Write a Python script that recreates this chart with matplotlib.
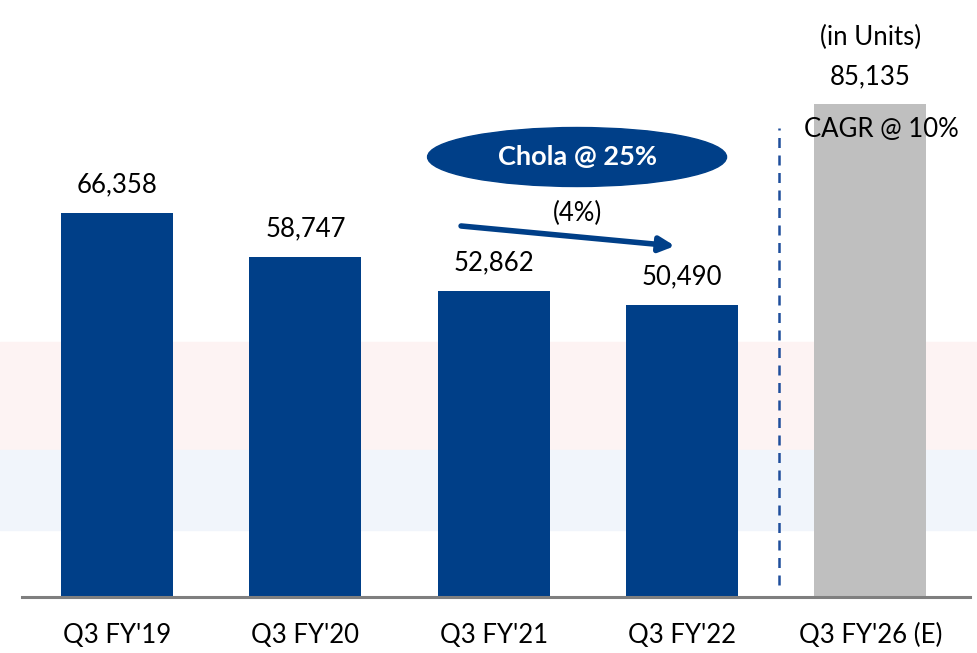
import matplotlib.pyplot as plt
from matplotlib.patches import Ellipse, Rectangle

plt.rcParams['font.family'] = ['Lato', 'DejaVu Sans']

categories = ["Q3 FY'19", "Q3 FY'20", "Q3 FY'21", "Q3 FY'22", "Q3 FY'26 (E)"]
units = [66358, 58747, 52862, 50490, 85135]
bar_colors = ['#003f88', '#003f88', '#003f88', '#003f88', '#bfbfbf']

fig = plt.figure(figsize=(9.77, 6.53), dpi=100)

# faint watermark bands behind the chart
fig.patches.append(Rectangle((0, (653 - 450) / 653), 1, 108 / 653,
                             transform=fig.transFigure, color='#fdf3f3', zorder=-1))
fig.patches.append(Rectangle((0, (653 - 530) / 653), 1, 80 / 653,
                             transform=fig.transFigure, color='#f1f5fb', zorder=-1))

ax = fig.add_axes([22 / 977, 56 / 653, 948 / 977, 597 / 653])
ax.set_zorder(1)
ax.patch.set_alpha(0)

x = list(range(len(categories)))
ax.bar(x, units, width=0.595, color=bar_colors, zorder=2)

fs = 18.5
for xi, v in zip(x, units):
    ax.annotate(f"{v:,}", (xi, v), xytext=(0, 11), textcoords='offset points',
                ha='center', va='bottom', fontsize=fs, color='black')

ax.set_xlim(-0.505, 4.53)
ax.set_ylim(0, 103160)

for s in ['top', 'right', 'left']:
    ax.spines[s].set_visible(False)
ax.spines['bottom'].set_color('#7f7f7f')
ax.spines['bottom'].set_linewidth(2.2)
ax.set_yticks([])
ax.set_xticks(x)
ax.set_xticklabels(categories, fontsize=fs)
ax.tick_params(axis='x', length=0, pad=19)

# separator between actuals and estimate
ax.plot([3.516, 3.516], [2000, 81000], color='#1f4e9c', lw=1.8,
        linestyle=(0, (4, 3)), zorder=3)

# Chola callout
ax.add_patch(Ellipse((2.443, 76030), 1.588, 10195, color='#003f88', zorder=3))
ax.text(2.443, 76030, "Chola @ 25%", color='white', fontsize=19.5,
        fontweight='bold', ha='center', va='center', zorder=4)

# decline arrow
ax.annotate("", xy=(2.963, 60653), xytext=(1.827, 64110),
            arrowprops=dict(arrowstyle='-|>,head_length=0.9,head_width=0.45',
                            color='#003f88', lw=4, shrinkA=0, shrinkB=0))
ax.text(2.443, 66270, "(4%)", fontsize=fs, ha='center', va='center')

ax.text(4.0, 96770, "(in Units)", fontsize=fs, ha='center', va='center')
ax.text(4.06, 80700, "CAGR @ 10%", fontsize=fs, ha='center', va='center', zorder=4)

fig.savefig('out.png', dpi=100)
